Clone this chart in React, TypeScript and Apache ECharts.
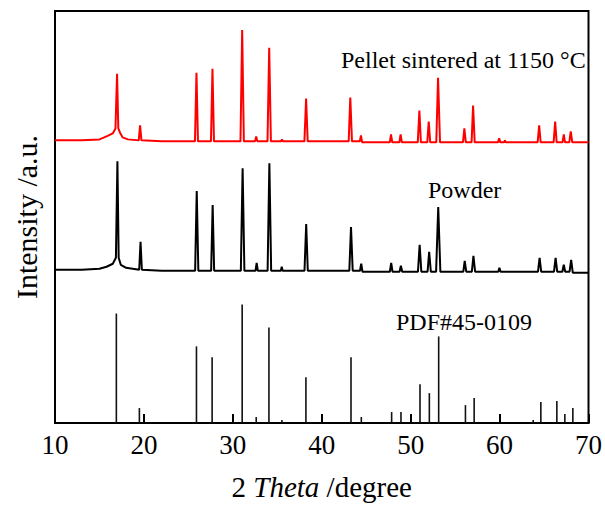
import React, { useEffect, useRef } from "react";
import * as echarts from "echarts";

const FONT = "Liberation Serif";

// x-axis ticks (2θ, degree)
const xTicks = [10, 20, 30, 40, 50, 60, 70];

// Pellet sintered at 1150 °C pattern: [2θ, intensity (a.u., offset)]
const pellet: [number, number][] = [
  [10, 284], [13, 284], [15, 285], [15.8, 288], [16.5, 291], [16.8, 296],
  [16.98, 351], [17.12, 296], [17.3, 292], [17.6, 287], [18.2, 285],
  [19.42, 284], [19.57, 299], [19.72, 284],
  [22, 283],
  [25.74, 283], [25.91, 352], [26.08, 283],
  [27.54, 283], [27.71, 356], [27.88, 283],
  [30.86, 283], [31.05, 395], [31.24, 283],
  [32.5, 283], [32.63, 288], [32.76, 283],
  [33.9, 283], [34.09, 377], [34.28, 283],
  [35.42, 283], [35.52, 285], [35.62, 283],
  [38.05, 283], [38.24, 326], [38.42, 283],
  [43.03, 283], [43.21, 327], [43.4, 283],
  [44.28, 283], [44.41, 289], [44.54, 282],
  [47.65, 282], [47.79, 290], [47.93, 282],
  [48.73, 282], [48.87, 290], [49.01, 282],
  [50.8, 282], [50.98, 314], [51.15, 282],
  [51.87, 282], [52.03, 303], [52.2, 282],
  [52.88, 282], [53.08, 347], [53.3, 282],
  [55.88, 282], [56.04, 296], [56.2, 282],
  [56.85, 282], [57.02, 319], [57.2, 282],
  [59.82, 282], [59.95, 286], [60.08, 282],
  [60.5, 282], [60.6, 284], [60.7, 282],
  [64.28, 282], [64.45, 299], [64.62, 282],
  [66.08, 282], [66.25, 303], [66.42, 282],
  [67.08, 282], [67.22, 290], [67.36, 282],
  [67.84, 282], [68.0, 293], [68.18, 282],
  [70, 282],
];

// Powder pattern: [2θ, intensity (a.u., offset)]
const powder: [number, number][] = [
  [10, 154], [13, 154], [15, 155], [15.8, 157], [16.5, 160], [16.85, 166],
  [17.02, 263], [17.16, 166], [17.4, 159], [18, 156],
  [19.47, 154], [19.62, 182], [19.77, 154],
  [22, 153],
  [25.76, 153], [25.94, 233], [26.12, 153],
  [27.56, 153], [27.73, 219], [27.9, 153],
  [30.9, 153], [31.1, 256], [31.3, 153],
  [32.55, 153], [32.68, 161], [32.81, 153],
  [33.91, 153], [34.11, 261], [34.31, 153],
  [35.4, 153], [35.5, 157], [35.6, 153],
  [38.06, 153], [38.25, 200], [38.43, 153],
  [43.1, 153], [43.29, 197], [43.48, 153],
  [44.3, 153], [44.44, 160], [44.58, 152],
  [47.66, 152], [47.81, 161], [47.96, 152],
  [48.75, 152], [48.9, 158], [49.05, 152],
  [50.82, 152], [51.01, 179], [51.2, 152],
  [51.9, 152], [52.08, 172], [52.27, 152],
  [52.86, 152], [53.1, 217], [53.34, 152],
  [55.92, 152], [56.08, 163], [56.25, 152],
  [56.88, 152], [57.06, 168], [57.25, 152],
  [59.85, 152], [59.98, 156], [60.11, 152],
  [64.32, 152], [64.5, 166], [64.68, 152],
  [66.12, 152], [66.3, 166], [66.48, 152],
  [67.06, 152], [67.22, 159], [67.38, 152],
  [67.87, 152], [68.05, 164], [68.23, 151],
  [70, 151],
];

// Reference pattern PDF#45-0109: stick positions and heights
const pdfPos = [
  16.9, 19.49, 25.91, 27.67, 31.05, 32.63, 34.06, 35.52, 38.22, 43.29, 44.45,
  47.86, 48.91, 51.05, 52.1, 53.15, 56.16, 57.14, 63.78, 64.64, 66.44, 67.34, 68.24,
];
const pdfInt = [
  110, 15, 77, 66, 119, 6, 96, 3, 46, 66, 6,
  11, 11, 39, 30, 87, 18, 25, 3, 21, 22, 9, 15,
];

const labels = [
  { text: "Pellet sintered at 1150 °C", x: 341, y: 60 },
  { text: "Powder", x: 428, y: 190 },
  { text: "PDF#45-0109", x: 396, y: 322 },
];

export default function App() {
  const ref = useRef<HTMLDivElement>(null);
  useEffect(() => {
    document.body.style.margin = "0";
    if (!ref.current) return;
    const chart = echarts.init(ref.current, null, { renderer: "svg" });
    const sticks = pdfPos.map((p, i) => [p, pdfInt[i]]);
    chart.setOption({
      animation: false,
      backgroundColor: "#fff",
      textStyle: { fontFamily: FONT },
      grid: {
        left: 55,
        right: 16,
        top: 11,
        bottom: 81,
        show: true,
        borderColor: "#000",
        borderWidth: 2,
      },
      xAxis: {
        type: "value",
        min: xTicks[0],
        max: xTicks[xTicks.length - 1],
        interval: 10,
        splitLine: { show: false },
        axisLine: { show: true, lineStyle: { color: "#000", width: 2 } },
        axisTick: { show: true, inside: true, length: 9, lineStyle: { color: "#000", width: 2 } },
        axisLabel: { color: "#000", fontSize: 27, fontFamily: FONT, margin: 8 },
        name: "2 {i|Theta} /degree",
        nameLocation: "middle",
        nameGap: 49,
        nameTextStyle: {
          color: "#000",
          fontSize: 29,
          fontFamily: FONT,
          rich: { i: { fontStyle: "italic", fontSize: 29, fontFamily: FONT, color: "#000" } },
        },
      },
      yAxis: {
        type: "value",
        min: 0,
        max: 414,
        splitLine: { show: false },
        axisLabel: { show: false },
        axisTick: { show: false },
        axisLine: { show: true, lineStyle: { color: "#000", width: 2 } },
        name: "Intensity /a.u.",
        nameLocation: "middle",
        nameGap: 14,
        nameTextStyle: { color: "#000", fontSize: 30, fontFamily: FONT },
      },
      series: [
        {
          type: "custom",
          data: sticks,
          renderItem: (params: any, api: any) => {
            const p0 = api.coord([api.value(0), 0]);
            const p1 = api.coord([api.value(0), api.value(1)]);
            return {
              type: "line",
              shape: { x1: p0[0], y1: p0[1], x2: p1[0], y2: p1[1] },
              style: { stroke: "#111", lineWidth: 1.6 },
            };
          },
          z: 3,
        },
        {
          type: "line",
          data: powder,
          showSymbol: false,
          symbol: "none",
          lineStyle: { color: "#000", width: 2 },
          z: 4,
        },
        {
          type: "line",
          data: pellet,
          showSymbol: false,
          symbol: "none",
          lineStyle: { color: "#ff0000", width: 2 },
          z: 5,
        },
      ],
      graphic: labels.map((l) => ({
        type: "text",
        x: l.x,
        y: l.y,
        style: {
          text: l.text,
          fontSize: 24,
          fontFamily: FONT,
          fill: "#000",
          align: "left",
          verticalAlign: "middle",
        },
        z: 10,
      })),
    });
    return () => chart.dispose();
  }, []);
  return <div ref={ref} style={{ width: 605, height: 506 }} />;
}
